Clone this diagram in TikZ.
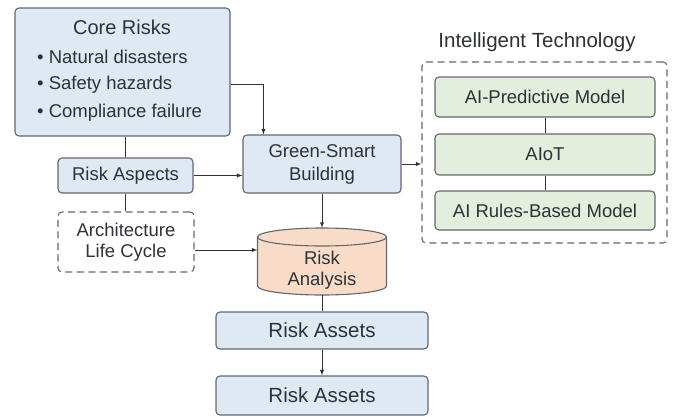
\documentclass[tikz,border=0pt]{standalone}
\usepackage{fontspec}
\setmainfont{Liberation Sans}
\usepackage{xcolor}
\usepackage{tikz}
\usetikzlibrary{arrows}

\definecolor{boxblue}{HTML}{DFE9F3}
\definecolor{boxgreen}{HTML}{E3EEDD}
\definecolor{boxpeach}{HTML}{F9DCC8}
\definecolor{edgegrey}{HTML}{62676E}
\definecolor{inkgrey}{HTML}{2E3136}

\tikzset{
	bluebox/.style={draw=edgegrey, fill=boxblue, rounded corners=4pt, line width=1.1pt, inner sep=0pt},
	greenbox/.style={draw=edgegrey, fill=boxgreen, rounded corners=4pt, line width=1.1pt, inner sep=0pt},
	dashbox/.style={draw=edgegrey, rounded corners=4pt, line width=1.1pt, dash pattern=on 7pt off 4.5pt, inner sep=0pt},
	drum/.style={draw=edgegrey, fill=boxpeach, line width=1.1pt},
	lbl/.style={text=inkgrey, inner sep=0pt, align=center},
}

\begin{document}
\begin{tikzpicture}[x=1pt,y=-1pt,font=\fontsize{18.5}{22}\selectfont]
		\useasboundingbox (0,0) rectangle (675,416);
		%
		\node[bluebox, minimum width=215, minimum height=128] (core) at (122.5,72) {};
		\node[lbl, font=\fontsize{20}{24}\selectfont] (coretitle) at (122,27) {Core Risks};
		\node[lbl, anchor=west] (nat) at (37,57) {\textbullet\ Natural disasters};
		\node[lbl, anchor=west] (saf) at (37,85) {\textbullet\ Safety hazards};
		\node[lbl, anchor=west] (comp) at (37,113) {\textbullet\ Compliance failure};
		%
		\node[bluebox, minimum width=135, minimum height=35] (aspects) at (125.5,175.5) {};
		\node[lbl] (aspectstxt) at (aspects) {Risk Aspects};
		\node[dashbox, minimum width=136, minimum height=60] (arch) at (126,242) {};
		\node[lbl, font=\fontsize{18.5}{21}\selectfont] (archtxt) at (arch) {Architecture\\Life Cycle};
		%
		\node[bluebox, minimum width=158, minimum height=58] (green) at (322,164) {};
		\node[lbl, font=\fontsize{18.5}{23}\selectfont] (greentxt) at (green) {Green-Smart\\Building};
		% risk analysis drum
		\draw[drum] (257.5,237) -- (257.5,286)
			arc[start angle=180, end angle=360, x radius=64.5pt, y radius=9pt] -- (386.5,237)
			arc[start angle=0, end angle=180, x radius=64.5pt, y radius=9pt] -- cycle;
		\draw[drum, fill=none] (257.5,237)
			arc[start angle=180, end angle=360, x radius=64.5pt, y radius=9pt];
		\node[minimum width=129, minimum height=67, inner sep=0pt] (rana) at (322,261.5) {};
		\node[lbl, font=\fontsize{18.5}{21}\selectfont] (ranatxt) at (322,270) {Risk\\Analysis};
		%
		\node[bluebox, minimum width=212, minimum height=37] (assetsA) at (322,330.5) {};
		\node[lbl, font=\fontsize{20.5}{24}\selectfont] (assetsAtxt) at (assetsA) {Risk Assets};
		\node[bluebox, minimum width=212, minimum height=39] (assetsB) at (322,395.5) {};
		\node[lbl, font=\fontsize{20.5}{24}\selectfont] (assetsBtxt) at (assetsB) {Risk Assets};
		%
		\node[lbl, font=\fontsize{20.5}{24}\selectfont] (techtitle) at (537,42) {Intelligent Technology};
		\node[dashbox, minimum width=245, minimum height=181] (tech) at (544.5,152.5) {};
		\node[greenbox, minimum width=220, minimum height=40] (pred) at (545,97) {};
		\node[lbl] (predtxt) at (pred) {AI-Predictive Model};
		\node[greenbox, minimum width=220, minimum height=41] (aiot) at (545,154.5) {};
		\node[lbl] (aiottxt) at (aiot) {AIoT};
		\node[greenbox, minimum width=220, minimum height=39] (rules) at (545,210.5) {};
		\node[lbl] (rulestxt) at (rules) {AI Rules-Based Model};
		%
		\path[color=inkgrey, line width=0.9pt]
		(aspects.north) edge (aspects.north |- core.south)
		(aspects.south) edge (aspects.south |- arch.north)
		(pred.south) edge (aiot.north)
		(aiot.south) edge (rules.north)
		(rana.south) edge (assetsA.north);
		%
		\path[->,>=latex,color=inkgrey, line width=0.9pt]
		(aspects.east) edge (aspects.east -| green.west)
		(green.east) edge (green.east -| tech.west)
		(green.south) edge (rana.north)
		([yshift=-8pt]arch.east) edge ([yshift=-8pt]arch.east -| rana.west)
		(assetsA.south) edge (assetsB.north);
		\draw[->,>=latex,color=inkgrey, line width=0.9pt]
		([yshift=-12pt]core.east) -| ([xshift=21pt]green.north west);
		\end{tikzpicture}
\end{document}
